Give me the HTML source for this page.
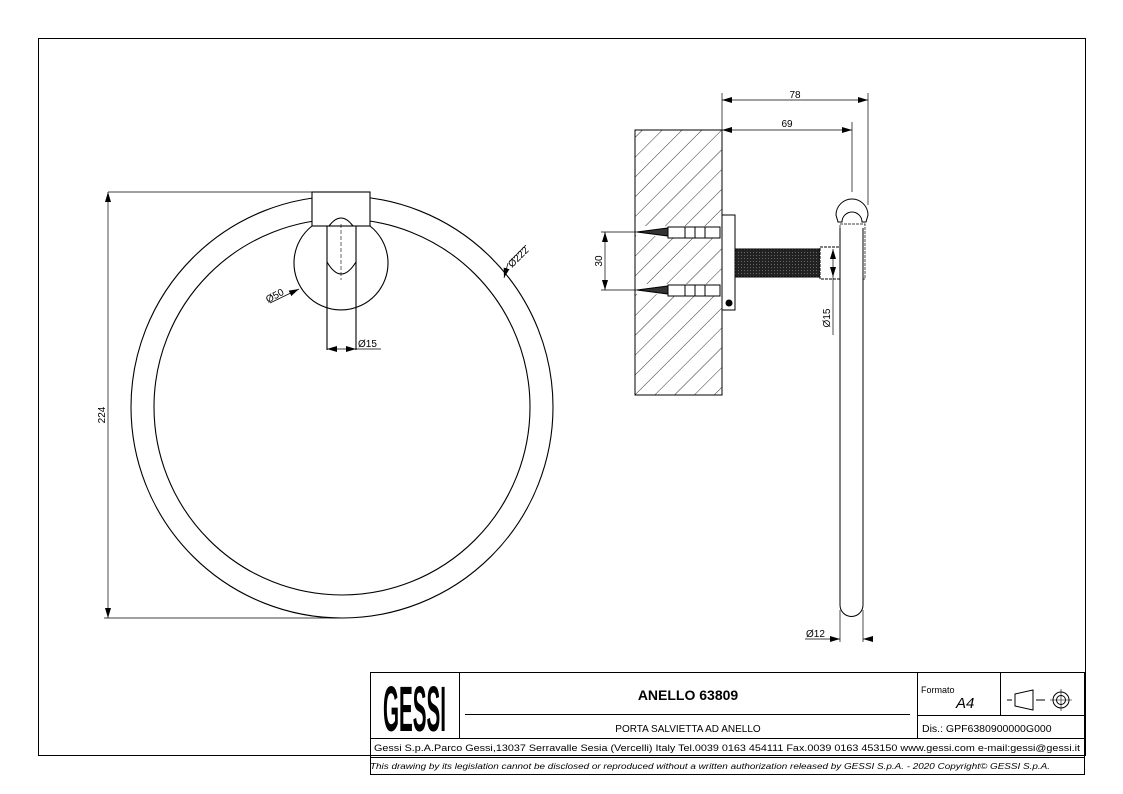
<!DOCTYPE html>
<html><head><meta charset="utf-8"><style>
html,body{margin:0;padding:0;background:#fff;}
svg{display:block;font-family:"Liberation Sans",Arial,sans-serif;}
</style></head><body>
<svg width="1123" height="794" viewBox="0 0 1123 794" xmlns="http://www.w3.org/2000/svg">
<defs>
<pattern id="h" width="14" height="14" patternUnits="userSpaceOnUse" patternTransform="rotate(45)">
<line x1="0" y1="0" x2="0" y2="14" stroke="#000" stroke-width="0.8"/></pattern>
<pattern id="d" width="3" height="3" patternUnits="userSpaceOnUse"><rect width="3" height="3" fill="#222"/><rect width="1" height="1" fill="#666"/></pattern>
<marker id="a" viewBox="0 0 10 6" refX="10" refY="3" markerWidth="10" markerHeight="6" orient="auto-start-reverse" markerUnits="userSpaceOnUse"><path d="M0,0L10,3L0,6z" fill="#000"/></marker>
</defs>
<rect x="0" y="0" width="1123" height="794" fill="#fff"/>
<rect x="38.5" y="38.5" width="1047" height="717" fill="none" stroke="#000" stroke-width="1"/>

<!-- FRONT VIEW -->
<g fill="none" stroke="#000" stroke-width="1.1">
<circle cx="342" cy="407" r="211"/>
<circle cx="342" cy="407" r="188"/>
<rect x="312" y="192" width="58" height="34" fill="#fff"/>
<path d="M312,226 A47,47 0 1,0 370,226"/>
<path d="M327,226 L327,350 M356,226 L356,350" />
<path d="M329,226 Q341,210 353,226"/>
<path d="M327,262 Q341,286 356,262" />
<line x1="341" y1="224" x2="341" y2="280" stroke-dasharray="4,2" stroke-width="0.6"/>
</g>
<g stroke="#000" stroke-width="0.7" fill="none">
<line x1="108" y1="192" x2="312" y2="192"/>
<line x1="104" y1="618" x2="342" y2="618"/>
<line x1="108" y1="192" x2="108" y2="618" marker-start="url(#a)" marker-end="url(#a)"/>
<line x1="327" y1="349" x2="356" y2="349" marker-start="url(#a)" marker-end="url(#a)"/>
<line x1="356" y1="349" x2="381" y2="349"/>
<line x1="270" y1="303" x2="299" y2="289" marker-end="url(#a)"/>
<line x1="509" y1="262" x2="526" y2="245"/>
<line x1="508" y1="263" x2="504" y2="278" marker-end="url(#a)"/>
</g>
<text x="0" y="0" font-size="10" transform="translate(105,415) rotate(-90)" text-anchor="middle">224</text>
<text x="358" y="347" font-size="10">Ø15</text>
<text font-size="10" transform="translate(268,303) rotate(-28)">Ø50</text>
<text font-size="10" transform="translate(512,268) rotate(-45)">Ø222</text>

<!-- SIDE VIEW -->
<rect x="635" y="130" width="87" height="265" fill="url(#h)" stroke="#000" stroke-width="1"/>
<g stroke="#000" stroke-width="1" fill="#fff">
<rect x="636" y="226" width="86" height="10" fill="#fff" stroke="none"/>
<rect x="636" y="284" width="86" height="10" fill="#fff" stroke="none"/>
<path d="M637,232 L668,228 L668,236 Z" fill="#333"/>
<path d="M637,290 L668,286 L668,294 Z" fill="#333"/>
<rect x="668" y="227" width="52" height="11"/>
<rect x="668" y="285" width="52" height="11"/>
<line x1="685" y1="227" x2="685" y2="238"/><line x1="695" y1="227" x2="695" y2="238"/><line x1="705" y1="227" x2="705" y2="238"/>
<line x1="685" y1="285" x2="685" y2="296"/><line x1="695" y1="285" x2="695" y2="296"/><line x1="705" y1="285" x2="705" y2="296"/>
<rect x="722" y="215" width="13" height="95"/>
<circle cx="729" cy="303" r="3" fill="#000"/>
<rect x="735" y="249" width="85" height="28" fill="url(#d)"/>
<rect x="820" y="247" width="20" height="32" stroke-dasharray="3,1"/>
<rect x="840" y="224" width="25" height="55" stroke-dasharray="3,1" stroke-width="0.7"/>
<path d="M840,228 L840,605 A11.5,11.5 0 0,0 863,605 L863,228" fill="#fff"/>
<path d="M836,215 A16,16 0 0,1 868,215 L866,222 L862,222 A10,10 0 0,0 842,222 L838,222 Z" fill="#fff"/>
</g>
<g stroke="#000" stroke-width="0.7" fill="none">
<line x1="722" y1="93" x2="722" y2="130"/>
<line x1="868" y1="93" x2="868" y2="205"/>
<line x1="852" y1="122" x2="852" y2="192"/>
<line x1="722" y1="100" x2="868" y2="100" marker-start="url(#a)" marker-end="url(#a)"/>
<line x1="722" y1="130" x2="852" y2="130" marker-start="url(#a)" marker-end="url(#a)"/>
<line x1="601" y1="232" x2="637" y2="232"/>
<line x1="601" y1="290" x2="637" y2="290"/>
<line x1="605" y1="232" x2="605" y2="290" marker-start="url(#a)" marker-end="url(#a)"/>
<line x1="833" y1="249" x2="833" y2="277" marker-start="url(#a)" marker-end="url(#a)"/>
<line x1="833" y1="277" x2="833" y2="335"/>
<line x1="840" y1="610" x2="840" y2="642"/>
<line x1="863" y1="610" x2="863" y2="642"/>
<line x1="805" y1="639" x2="840" y2="639" marker-end="url(#a)"/>
<line x1="863" y1="639" x2="872" y2="639" marker-start="url(#a)"/>
</g>
<text x="795" y="98" font-size="10" text-anchor="middle">78</text>
<text x="787" y="127" font-size="10" text-anchor="middle">69</text>
<text font-size="10" transform="translate(602,261) rotate(-90)" text-anchor="middle">30</text>
<text font-size="10" transform="translate(830,318) rotate(-90)" text-anchor="middle">Ø15</text>
<text x="806" y="637" font-size="10">Ø12</text>

<!-- TITLE BLOCK -->
<g stroke="#000" stroke-width="1" fill="none">
<rect x="370.5" y="672.5" width="714" height="102"/>
<line x1="370" y1="738.5" x2="1085" y2="738.5"/>
<line x1="370" y1="757.5" x2="1085" y2="757.5"/>
<line x1="459.5" y1="672" x2="459.5" y2="738"/>
<line x1="917.5" y1="672" x2="917.5" y2="738"/>
<line x1="1000.5" y1="672" x2="1000.5" y2="715"/>
<line x1="917" y1="715.5" x2="1085" y2="715.5"/>
<line x1="465" y1="714.5" x2="910" y2="714.5"/>
<path d="M1007,700 L1012,700 M1015,694 L1033,690 L1033,710 L1015,706 Z M1036,700 L1045,700"/>
<circle cx="1061" cy="700" r="8"/><circle cx="1061" cy="700" r="4.5"/>
<line x1="1050" y1="700" x2="1072" y2="700" stroke-width="0.6"/>
<line x1="1061" y1="689" x2="1061" y2="711" stroke-width="0.6"/>
</g>
<text x="383" y="731" font-size="64" font-weight="bold" textLength="63" lengthAdjust="spacingAndGlyphs">GESSI</text>
<text x="688" y="700" font-size="14" font-weight="bold" text-anchor="middle">ANELLO 63809</text>
<text x="688" y="732" font-size="10" text-anchor="middle">PORTA SALVIETTA AD ANELLO</text>
<text x="921" y="693" font-size="9">Formato</text>
<text x="956" y="708" font-size="15" font-style="italic">A4</text>
<text x="922" y="732" font-size="10.5">Dis.: GPF6380900000G000</text>
<text x="727" y="751" font-size="9.6" text-anchor="middle" textLength="706" lengthAdjust="spacingAndGlyphs">Gessi S.p.A.Parco Gessi,13037 Serravalle Sesia (Vercelli) Italy Tel.0039 0163 454111 Fax.0039 0163 453150 www.gessi.com e-mail:gessi@gessi.it</text>
<text x="710" y="769" font-size="8" font-style="italic" text-anchor="middle" textLength="680" lengthAdjust="spacingAndGlyphs">This drawing by its legislation cannot be disclosed or reproduced without a written authorization released by GESSI S.p.A. - 2020 Copyright© GESSI S.p.A.</text>
</svg>
</body></html>
